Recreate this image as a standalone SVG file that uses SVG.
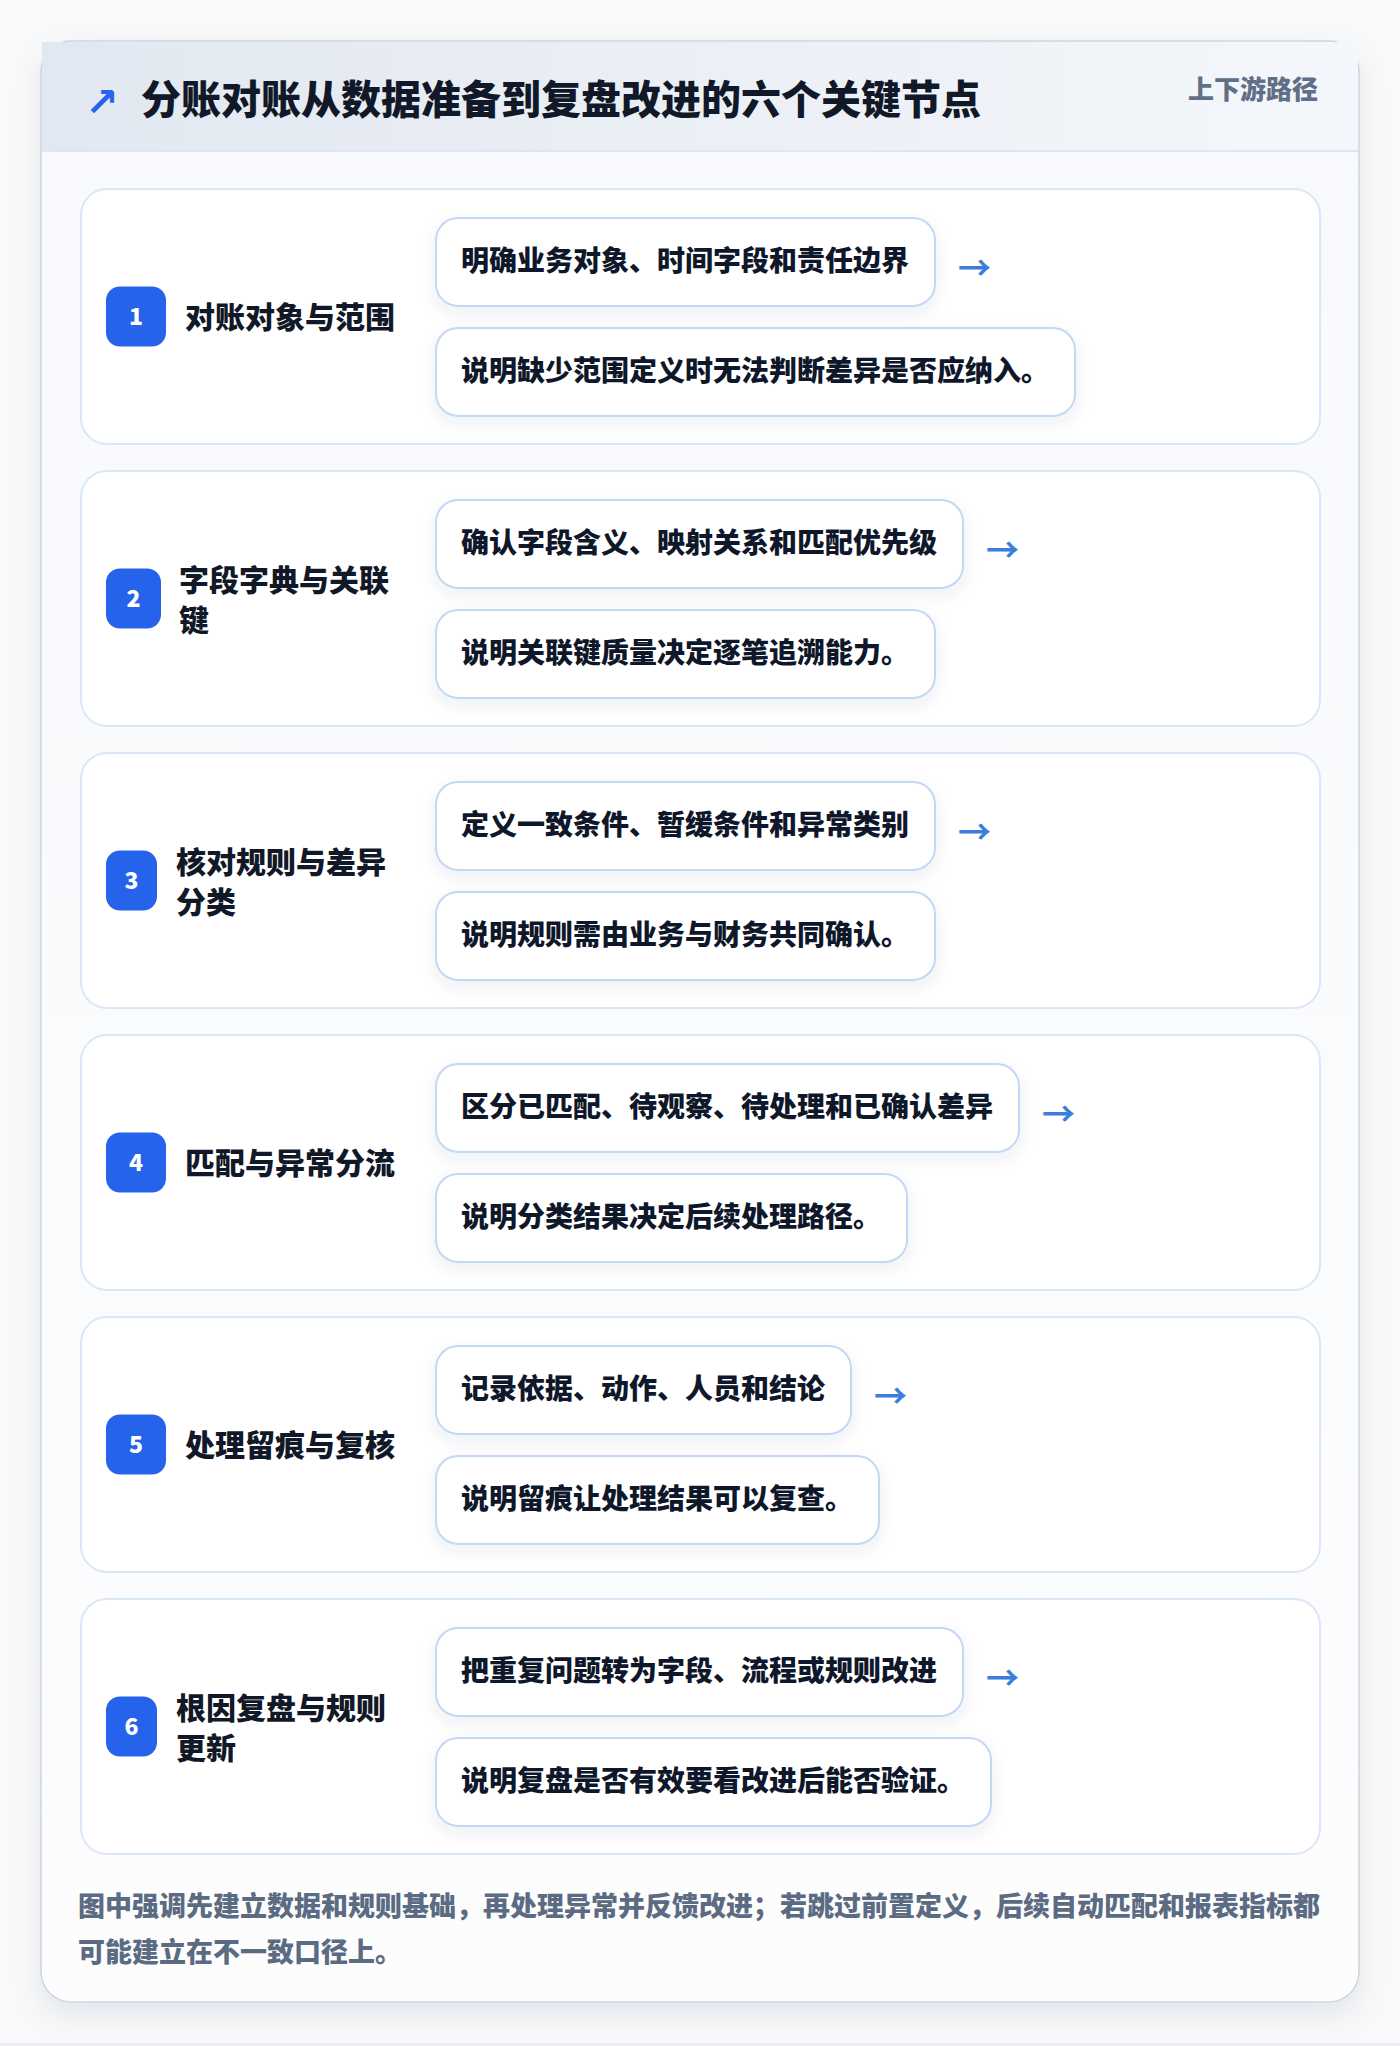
<svg xmlns="http://www.w3.org/2000/svg" width="1400" height="2046" viewBox="0 0 1400 2046">
<defs>
<style>
.cjk{font-family:"Noto Sans CJK SC","Noto Sans",sans-serif;font-weight:800}
.title{font-size:40px;fill:#111827}
.tag{font-size:26px;fill:#5f6f86}
.row{fill:#ffffff;stroke:#dbe7f7;stroke-width:2}
.badge{fill:#2563eb}
.num{font-size:23px;fill:#ffffff;text-anchor:middle}
.label{font-size:30px;fill:#111827}
.box{fill:#ffffff;stroke:#c3d8f4;stroke-width:2;filter:url(#bshadow)}
.btxt{font-size:28px;fill:#0f172a}
.arrow{font-family:"Noto Sans CJK SC",sans-serif;font-weight:700;font-size:33px;fill:#3b7ddd}
.foot{font-size:27px;fill:#5b6b82}
</style>
<linearGradient id="hdr" x1="0" y1="0" x2="1" y2="0">
<stop offset="0" stop-color="#e2e8f1"/>
<stop offset="1" stop-color="#f4f7fb"/>
</linearGradient>
<linearGradient id="body" x1="0" y1="0" x2="0" y2="1">
<stop offset="0" stop-color="#f7f9fc"/>
<stop offset="1" stop-color="#fdfdfe"/>
</linearGradient>
<filter id="cshadow" x="-10%" y="-10%" width="120%" height="120%">
<feDropShadow dx="0" dy="12" stdDeviation="14" flood-color="#1e2a40" flood-opacity="0.08"/>
</filter>
<filter id="bshadow" x="-20%" y="-40%" width="140%" height="190%">
<feDropShadow dx="0" dy="6" stdDeviation="8" flood-color="#1e3a70" flood-opacity="0.08"/>
</filter>
</defs>
<rect x="0" y="0" width="1400" height="2046" fill="#f8f9fb"/>
<rect x="0" y="2043" width="1400" height="3" fill="#eceef2"/>

<g id="card">
<rect x="41" y="41" width="1318" height="1961" rx="30" fill="url(#body)" stroke="#cbd5e1" stroke-width="1.5" filter="url(#cshadow)"/>
<rect x="42" y="42" width="1316" height="109" fill="url(#hdr)"/>
<line x1="42" y1="151" x2="1358" y2="151" stroke="#dbe7f7" stroke-width="2"/>
<text x="85" y="116" font-family="DejaVu Sans" font-weight="700" font-size="40" fill="#2563eb">↗</text>
<text class="cjk title" x="141" y="114">分账对账从数据准备到复盘改进的六个关键节点</text>
<text class="cjk tag" x="1318" y="99" text-anchor="end">上下游路径</text>
</g>

<g id="node-1">
<rect class="row" x="81" y="189" width="1239" height="255" rx="26"/>
<rect class="badge" x="106" y="286.5" width="60" height="60" rx="14"/>
<text class="cjk num" x="136" y="325">1</text>
<text class="cjk label" x="185" y="328">对账对象与范围</text>
<rect class="box" x="436" y="218" width="499" height="88" rx="22"/>
<text class="cjk btxt" x="461" y="271">明确业务对象、时间字段和责任边界</text>
<rect class="box" x="436" y="328" width="639" height="88" rx="22"/>
<text class="cjk btxt" x="461" y="381">说明缺少范围定义时无法判断差异是否应纳入。</text>
</g>

<g id="node-2">
<rect class="row" x="81" y="471" width="1239" height="255" rx="26"/>
<rect class="badge" x="106" y="568.5" width="55" height="60" rx="14"/>
<text class="cjk num" x="133.5" y="607">2</text>
<text class="cjk label" x="179" y="591">字段字典与关联</text>
<text class="cjk label" x="179" y="631">键</text>
<rect class="box" x="436" y="500" width="527" height="88" rx="22"/>
<text class="cjk btxt" x="461" y="553">确认字段含义、映射关系和匹配优先级</text>
<rect class="box" x="436" y="610" width="499" height="88" rx="22"/>
<text class="cjk btxt" x="461" y="663">说明关联键质量决定逐笔追溯能力。</text>
</g>

<g id="node-3">
<rect class="row" x="81" y="753" width="1239" height="255" rx="26"/>
<rect class="badge" x="106" y="850.5" width="51" height="60" rx="14"/>
<text class="cjk num" x="131.5" y="889">3</text>
<text class="cjk label" x="176" y="873">核对规则与差异</text>
<text class="cjk label" x="176" y="913">分类</text>
<rect class="box" x="436" y="782" width="499" height="88" rx="22"/>
<text class="cjk btxt" x="461" y="835">定义一致条件、暂缓条件和异常类别</text>
<rect class="box" x="436" y="892" width="499" height="88" rx="22"/>
<text class="cjk btxt" x="461" y="945">说明规则需由业务与财务共同确认。</text>
</g>

<g id="node-4">
<rect class="row" x="81" y="1035" width="1239" height="255" rx="26"/>
<rect class="badge" x="106" y="1132.5" width="60" height="60" rx="14"/>
<text class="cjk num" x="136" y="1171">4</text>
<text class="cjk label" x="185" y="1174">匹配与异常分流</text>
<rect class="box" x="436" y="1064" width="583" height="88" rx="22"/>
<text class="cjk btxt" x="461" y="1117">区分已匹配、待观察、待处理和已确认差异</text>
<rect class="box" x="436" y="1174" width="471" height="88" rx="22"/>
<text class="cjk btxt" x="461" y="1227">说明分类结果决定后续处理路径。</text>
</g>

<g id="node-5">
<rect class="row" x="81" y="1317" width="1239" height="255" rx="26"/>
<rect class="badge" x="106" y="1414.5" width="60" height="60" rx="14"/>
<text class="cjk num" x="136" y="1453">5</text>
<text class="cjk label" x="185" y="1456">处理留痕与复核</text>
<rect class="box" x="436" y="1346" width="415" height="88" rx="22"/>
<text class="cjk btxt" x="461" y="1399">记录依据、动作、人员和结论</text>
<rect class="box" x="436" y="1456" width="443" height="88" rx="22"/>
<text class="cjk btxt" x="461" y="1509">说明留痕让处理结果可以复查。</text>
</g>

<g id="node-6">
<rect class="row" x="81" y="1599" width="1239" height="255" rx="26"/>
<rect class="badge" x="106" y="1696.5" width="51" height="60" rx="14"/>
<text class="cjk num" x="131.5" y="1735">6</text>
<text class="cjk label" x="176" y="1719">根因复盘与规则</text>
<text class="cjk label" x="176" y="1759">更新</text>
<rect class="box" x="436" y="1628" width="527" height="88" rx="22"/>
<text class="cjk btxt" x="461" y="1681">把重复问题转为字段、流程或规则改进</text>
<rect class="box" x="436" y="1738" width="555" height="88" rx="22"/>
<text class="cjk btxt" x="461" y="1791">说明复盘是否有效要看改进后能否验证。</text>
</g>

<g id="connectors">
<text class="arrow" x="958" y="280">→</text>
<text class="arrow" x="986" y="562">→</text>
<text class="arrow" x="958" y="844">→</text>
<text class="arrow" x="1042" y="1126">→</text>
<text class="arrow" x="874" y="1408">→</text>
<text class="arrow" x="986" y="1690">→</text>
</g>

<g id="footer">
<text class="cjk foot" x="78" y="1916">图中强调先建立数据和规则基础，再处理异常并反馈改进；若跳过前置定义，后续自动匹配和报表指标都</text>
<text class="cjk foot" x="78" y="1962">可能建立在不一致口径上。</text>
</g>
</svg>
